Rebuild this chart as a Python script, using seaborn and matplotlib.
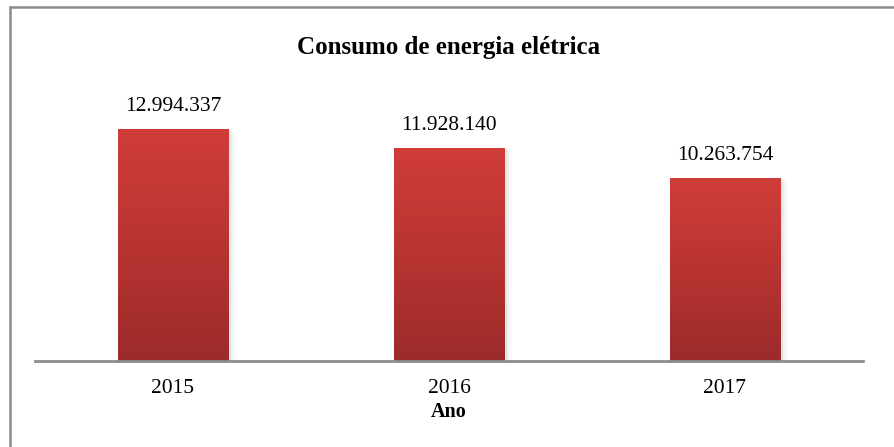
import numpy as np
import pandas as pd
import matplotlib
matplotlib.use("Agg")
import matplotlib.pyplot as plt
import seaborn as sns
from matplotlib.colors import LinearSegmentedColormap
from matplotlib.lines import Line2D

anos = ["2015", "2016", "2017"]
consumo = [12994337, 11928140, 10263754]
rotulos = ["12.994.337", "11.928.140", "10.263.754"]

df = pd.DataFrame({"Ano": anos, "Consumo": consumo})

sns.set_theme(style="white")
plt.rcParams["font.family"] = ["Liberation Serif", "DejaVu Serif"]

fig = plt.figure(figsize=(8.94, 4.47), dpi=100)
ax = fig.add_axes([35 / 894, 86 / 447, 828 / 894, 250 / 447])

sns.barplot(data=df, x="Ano", y="Consumo", color="#b83432", width=0.40, ax=ax, zorder=2)
ax.set_ylim(0, 14000000)
ax.set_xlim(-0.5, 2.5)

# gradiente vertical nas barras
cmap = LinearSegmentedColormap.from_list("verm", ["#9b2b2a", "#b83432", "#d03d39"])
grad = np.linspace(0, 1, 256).reshape(-1, 1)
for p in ax.patches:
    x0, w = p.get_x(), p.get_width()
    h = p.get_height()
    # sombra leve
    for k, a in enumerate([0.06, 0.04, 0.02]):
        d = 0.006 * (k + 1)
        ax.bar(x0 + w / 2 + d, h, width=w + d, bottom=-60000 * (k + 1), color="#000000",
               alpha=a, zorder=1, linewidth=0)
    im = ax.imshow(grad, cmap=cmap, aspect="auto", origin="lower",
                   extent=[x0, x0 + w, 0, h], zorder=3)
    im.set_clip_path(p)

for i, t in enumerate(rotulos):
    ax.annotate(t, (i, consumo[i]), xytext=(0, 9), textcoords="offset points",
                ha="center", va="bottom", fontsize=15.5, color="#000000")

for s in ["top", "right", "left"]:
    ax.spines[s].set_visible(False)
ax.spines["bottom"].set_color("#8c8c8c")
ax.spines["bottom"].set_linewidth(2)
ax.spines["bottom"].set_zorder(4)
ax.set_yticks([])
ax.tick_params(axis="x", length=0, labelsize=15.5, pad=13, colors="#000000")
ax.set_ylabel("")
ax.set_xlabel("Ano", fontsize=14.5, fontweight="bold", labelpad=3, color="#000000")
ax.set_title("Consumo de energia elétrica", fontsize=18, fontweight="bold",
             color="#000000", y=1.0, pad=41)

# moldura do gráfico
fig.add_artist(Line2D([10 / 894, 10 / 894], [0, 1 - 7 / 447], transform=fig.transFigure,
                      color="#8a8a8a", linewidth=1.8))
fig.add_artist(Line2D([10 / 894, 1], [1 - 7 / 447, 1 - 7 / 447], transform=fig.transFigure,
                      color="#8a8a8a", linewidth=1.8))

fig.savefig("out.png", dpi=100)
